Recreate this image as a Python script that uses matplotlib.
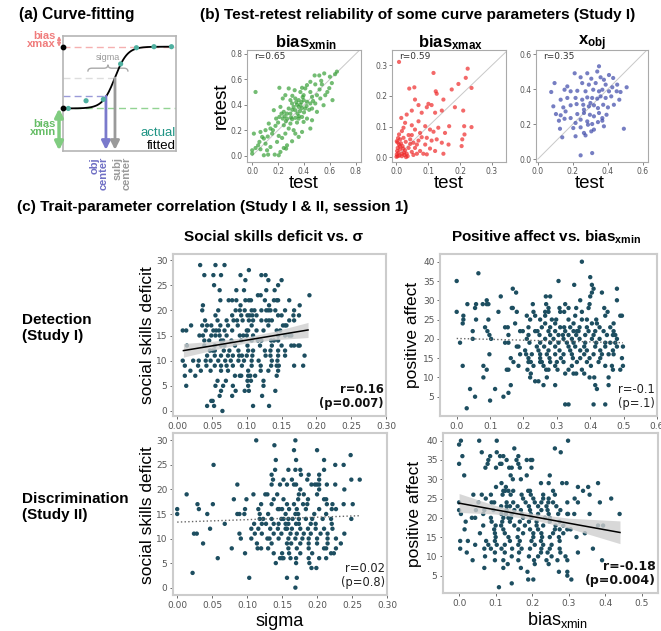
import numpy as np
import matplotlib
matplotlib.use('Agg')
import matplotlib.pyplot as plt
from matplotlib.path import Path
from matplotlib.patches import PathPatch

plt.rcParams['font.family'] = ['DejaVu Sans']
plt.rcParams['mathtext.fontset'] = 'custom'
plt.rcParams['mathtext.rm'] = 'Liberation Sans'
plt.rcParams['mathtext.bf'] = 'Liberation Sans:bold'
plt.rcParams['mathtext.it'] = 'Liberation Sans:italic'
plt.rcParams['mathtext.sf'] = 'Liberation Sans'

# ---------------- panel (a) schematic values ----------------
curve_low, curve_high, curve_center, curve_scale = 3.7, 9.07, 4.6, 0.55
actual_x = [0.47, 2.04, 3.57, 5.1, 6.5, 8.05, 9.6]
actual_y = [3.7, 4.37, 4.49, 7.57, 8.98, 9.07, 9.07]
obj_center, subj_center = 3.8, 4.6
obj_level, subj_level = 4.76, 6.35
sigma_left, sigma_right = 2.2, 5.75

# ---------------- panel (b) test-retest ----------------
xmin_test = [0.026,0.654,0.64,0.60,0.556,0.518,0.482,0.615,0.595,0.533,0.538,0.449,0.487,0.423,0.385,0.41,0.21,0.282,0.328,0.372,
             0.397,0.449,0.462,0.50,0.564,0.62,0.256,0.236,0.295,0.333,0.359,0.397,0.423,0.449,0.308,0.346,0.372,0.32,0.359,0.385,
             0.41,0.333,0.282,0.526,0.487,0.551,0.462,0.50,0.218,0.167,0.244,0.269,0.21,0.236,0.269,0.308,0.333,0.359,0.385,0.423,
             0.462,0.397,0.346,0.295,0.244,0.18,0.141,0.103,0.064,0.013,0.282,0.32,0.256,0.333,0.385,0.449,0.205,0.231,0.192,0.09,
             0.056,0.103,0.026,0.064,0.141,0.174,0.09,0.0,0.269,0.244,0.218,0.115,0.308,0.359,0.295,0.226,0.185,0.128,0.154,0.077,
             0.046,0.0,0.123,0.205,0.262,0.35,0.37,0.40,0.42,0.38,0.31,0.36,0.44,0.30,0.26,0.34,0.39,0.47,0.52,0.58,
             0.31,0.25,0.20,0.16,0.12]
xmin_retest = [0.50,0.66,0.64,0.62,0.646,0.63,0.63,0.57,0.53,0.588,0.56,0.58,0.56,0.554,0.533,0.528,0.533,0.528,0.514,0.50,
               0.475,0.50,0.462,0.475,0.475,0.436,0.475,0.449,0.436,0.449,0.436,0.436,0.423,0.41,0.41,0.40,0.40,0.383,0.383,0.375,
               0.37,0.357,0.37,0.449,0.41,0.396,0.37,0.344,0.383,0.357,0.344,0.33,0.304,0.291,0.291,0.286,0.297,0.291,0.304,0.291,
               0.278,0.265,0.26,0.252,0.239,0.234,0.213,0.20,0.186,0.173,0.213,0.20,0.173,0.173,0.186,0.213,0.155,0.139,0.108,0.134,
               0.108,0.094,0.06,0.05,0.068,0.008,0.003,0.016,0.081,0.06,0.029,0.042,0.113,0.147,0.33,0.33,0.291,0.252,0.173,0.147,
               0.081,0.042,0.008,0.003,0.055,0.33,0.35,0.34,0.39,0.42,0.36,0.31,0.36,0.30,0.27,0.42,0.46,0.43,0.52,0.50,
               0.47,0.31,0.26,0.20,0.15]

xmax_test = [0.009,0.117,0.224,0.236,0.218,0.195,0.041,0.057,0.124,0.127,0.174,0.148,0.101,0.111,0.096,0.059,0.07,0.049,0.033,0.080,
             0.122,0.143,0.184,0.21,0.166,0.213,0.236,0.016,0.028,0.023,0.049,0.07,0.091,0.106,0.117,0.132,0.153,0.059,0.075,0.080,
             0.096,0.111,0.127,0.143,0.164,0.205,0.207,0.214,0.049,0.07,0.091,0.106,0.148,0.122,0.002,0.007,0.0125,0.018,0.005,0.009,
             0.020,0.028,0.033,0.039,0.002,0.0125,0.023,0.030,0.044,0.049,0.059,0.005,0.018,0.026,0.036,0.054,0.065,0.075,0.085,0.096,
             0.009,0.018,0.039,0.044,0.054,0.065,0.001,0.003,0.01,0.015,0.022,0.006,0.031,0.012,0.004,0.025]
xmax_retest = [0.311,0.275,0.289,0.226,0.259,0.239,0.224,0.228,0.215,0.207,0.221,0.188,0.174,0.170,0.163,0.188,0.17,0.152,0.139,0.145,
               0.145,0.152,0.163,0.152,0.101,0.101,0.098,0.128,0.112,0.096,0.104,0.117,0.101,0.09,0.083,0.096,0.079,0.09,0.079,0.065,
               0.063,0.054,0.058,0.047,0.041,0.036,0.058,0.074,0.072,0.054,0.041,0.028,0.011,0.02,0.009,0.014,0.025,0.011,0.030,0.041,
               0.036,0.022,0.011,0.030,0.052,0.058,0.063,0.05,0.043,0.017,0.030,0.003,0.003,0.007,0.003,0.007,0.011,0.02,0.011,0.009,
               0.074,0.085,0.072,0.058,0.047,0.041,0.001,0.02,0.005,0.045,0.028,0.062,0.0,0.035,0.048,0.015]

xobj_test = [0.349,0.21,0.339,0.406,0.282,0.095,0.244,0.305,0.358,0.377,0.43,0.168,0.253,0.291,0.33,0.387,0.425,0.453,0.507,0.076,
             0.152,0.187,0.225,0.272,0.316,0.349,0.368,0.406,0.45,0.472,0.13,0.168,0.215,0.253,0.282,0.31,0.339,0.358,0.387,0.419,
             0.465,0.088,0.145,0.187,0.221,0.259,0.291,0.32,0.343,0.373,0.40,0.434,0.30,0.103,0.13,0.158,0.187,0.225,0.263,0.297,
             0.32,0.349,0.368,0.392,0.263,0.12,0.152,0.215,0.244,0.282,0.31,0.343,0.368,0.126,0.202,0.244,0.286,0.32,0.305,0.263,
             0.272,0.215,0.139,0.491,0.244,0.31,0.377]
xobj_retest = [0.53,0.49,0.50,0.48,0.49,0.434,0.467,0.459,0.467,0.453,0.463,0.415,0.434,0.425,0.434,0.425,0.41,0.425,0.41,0.383,
               0.396,0.387,0.39,0.387,0.396,0.387,0.396,0.387,0.387,0.383,0.339,0.349,0.349,0.339,0.352,0.349,0.345,0.358,0.349,0.358,
               0.339,0.301,0.295,0.307,0.314,0.31,0.301,0.307,0.291,0.31,0.295,0.31,0.32,0.257,0.25,0.272,0.234,0.257,0.263,0.253,
               0.244,0.263,0.234,0.253,0.282,0.219,0.23,0.206,0.225,0.215,0.20,0.211,0.219,0.173,0.177,0.181,0.196,0.168,0.158,0.149,
               0.135,0.13,0.124,0.173,0.021,0.034,0.187]

# ---------------- panel (c) Detection (Study I): social skills deficit vs sigma ----------------
det_ssd_rows = [
    (29, [0.033, 0.055, 0.068]),
    (28, [0.103]),
    (27, [0.039, 0.052, 0.063, 0.091, 0.121, 0.127]),
    (26, [0.098, 0.131, 0.150]),
    (25, [0.053, 0.145]),
    (24, [0.061, 0.085, 0.096, 0.128, 0.140]),
    (23, [0.116, 0.120, 0.190]),
    (22, [0.062, 0.074, 0.079, 0.085, 0.098, 0.103, 0.106, 0.126, 0.139, 0.143, 0.145, 0.161]),
    (21, [0.037, 0.091, 0.132, 0.176]),
    (20, [0.036, 0.059, 0.084, 0.090, 0.097, 0.107, 0.111, 0.121, 0.128, 0.131, 0.134, 0.141, 0.155, 0.168]),
    (19, [0.055, 0.079, 0.092, 0.101, 0.104, 0.108, 0.114, 0.145, 0.150, 0.167, 0.175]),
    (18, [0.040, 0.058, 0.071, 0.081, 0.086, 0.094, 0.103, 0.109, 0.121, 0.128, 0.132, 0.136, 0.161, 0.168]),
    (17, [0.020, 0.036, 0.043, 0.049, 0.062, 0.073, 0.087, 0.107, 0.131, 0.152, 0.155, 0.157]),
    (16, [0.008, 0.013, 0.041, 0.052, 0.056, 0.060, 0.068, 0.079, 0.100, 0.102, 0.114, 0.124, 0.143, 0.148]),
    (15, [0.032, 0.037, 0.049, 0.055, 0.061, 0.071, 0.090, 0.095, 0.100, 0.109, 0.145, 0.155, 0.161, 0.164]),
    (14, [0.039, 0.046, 0.063, 0.066, 0.078, 0.092, 0.107, 0.116, 0.121, 0.135, 0.139, 0.145]),
    (13, [0.014, 0.039, 0.054, 0.063, 0.068, 0.083, 0.101, 0.119, 0.136, 0.150, 0.164, 0.168, 0.174, 0.176]),
    (12, [0.047, 0.051, 0.054, 0.067, 0.075, 0.088, 0.102, 0.109, 0.126, 0.134, 0.145, 0.155]),
    (11, [0.043, 0.054, 0.063, 0.073, 0.080, 0.089, 0.093, 0.100, 0.108, 0.127, 0.134, 0.145, 0.155, 0.183]),
    (10, [0.008, 0.023, 0.031, 0.041, 0.048, 0.059, 0.069, 0.077, 0.088, 0.096, 0.107, 0.117, 0.136, 0.144]),
    (9, [0.011, 0.030, 0.042, 0.054, 0.063, 0.071, 0.080, 0.093, 0.107, 0.120, 0.135, 0.143, 0.146, 0.168, 0.181]),
    (8, [0.019, 0.034, 0.048, 0.063, 0.073, 0.102, 0.120, 0.131, 0.145]),
    (7, [0.011, 0.026, 0.083, 0.090, 0.092, 0.102, 0.105, 0.112, 0.143]),
    (6, [0.058, 0.070, 0.101, 0.106, 0.124]),
    (5, [0.013, 0.055, 0.066, 0.080, 0.102, 0.124]),
    (4, [0.063, 0.084, 0.097, 0.103, 0.141]),
    (3, [0.061, 0.079, 0.122]),
    (2, [0.049, 0.051]),
    (1, [0.043, 0.053, 0.109, 0.132]),
    (0, [0.065]),
]
det_fit_x = [0.009, 0.05, 0.095, 0.14, 0.188]
det_fit_y = [12.0, 12.94, 13.97, 15.0, 16.1]
det_ci_lo = [10.7, 12.05, 13.4, 14.15, 14.6]
det_ci_hi = [13.4, 13.85, 14.55, 15.85, 17.6]

# ---------------- Detection (Study I): positive affect vs bias_xmin ----------------
det_pa_rows = [
    (40, [0.375]), (37, [0.065]), (36, [0.40]), (35, [0.0, 0.305]), (34, [0.352, 0.405]),
    (33, [0.168, 0.41, 0.48]), (32, [0.178, 0.405, 0.435]), (31, [0.132, 0.267, 0.28, 0.40]),
    (30, [0.09, 0.37, 0.48]),
    (29, [0.032, 0.058, 0.078, 0.09, 0.095, 0.228, 0.268, 0.325, 0.398]),
    (28, [0.055, 0.165, 0.168, 0.275, 0.308, 0.335, 0.358, 0.395, 0.442]),
    (27, [0.0, 0.125, 0.18, 0.23, 0.265, 0.275, 0.31, 0.322, 0.375, 0.452]),
    (26, [0.02, 0.21, 0.235, 0.265, 0.355, 0.445, 0.49, 0.495]),
    (25, [0.02, 0.058, 0.095, 0.22, 0.25, 0.285, 0.298, 0.335, 0.375, 0.39, 0.418]),
    (24, [0.018, 0.175, 0.265, 0.295, 0.35, 0.405, 0.42, 0.47]),
    (23, [0.085, 0.145, 0.153, 0.215, 0.255, 0.28, 0.31, 0.322, 0.34, 0.368, 0.39, 0.428, 0.46]),
    (22, [0.048, 0.092, 0.19, 0.198, 0.235, 0.242, 0.275, 0.295, 0.325, 0.35, 0.36, 0.365, 0.395, 0.415, 0.44, 0.47]),
    (21, [0.098, 0.155, 0.215, 0.248, 0.28, 0.305, 0.318, 0.335, 0.358, 0.385, 0.41, 0.45, 0.468, 0.475]),
    (20, [0.048, 0.103, 0.21, 0.265, 0.29, 0.32, 0.345, 0.368, 0.405, 0.428, 0.48]),
    (19, [0.01, 0.145, 0.155, 0.218, 0.25, 0.28, 0.305, 0.33, 0.35, 0.385, 0.418, 0.445, 0.46, 0.475]),
    (18, [0.18, 0.185, 0.24, 0.262, 0.295, 0.335, 0.355, 0.382, 0.415, 0.445, 0.48, 0.498]),
    (17, [0.205, 0.245, 0.275, 0.308, 0.34, 0.37, 0.39, 0.43, 0.468]),
    (16, [0.098, 0.19, 0.208, 0.225, 0.25, 0.27, 0.295, 0.32, 0.345, 0.382, 0.41, 0.435, 0.455, 0.47]),
    (15, [0.162, 0.215, 0.25, 0.278, 0.312, 0.348, 0.37, 0.398, 0.43, 0.495]),
    (14, [0.17, 0.215, 0.222, 0.25, 0.255, 0.28, 0.30, 0.32, 0.36, 0.39, 0.425]),
    (13, [0.018, 0.08, 0.185, 0.23, 0.26, 0.295, 0.345, 0.402, 0.445, 0.465, 0.498]),
    (12, [0.09, 0.15, 0.155, 0.212, 0.268, 0.275, 0.302, 0.335, 0.375, 0.468, 0.49]),
    (11, [0.222, 0.325, 0.35, 0.358, 0.382]),
    (10, [0.08, 0.22, 0.27, 0.398, 0.412, 0.455]),
    (9, [0.235, 0.245]),
    (8, [0.162, 0.26, 0.295, 0.415, 0.455]),
    (7, [0.04, 0.115, 0.42]),
    (6, [0.155]),
    (5, [0.055, 0.14]),
    (4, [0.10]),
    (3, [0.325, 0.335, 0.41, 0.445]),
    (2, [0.03]),
]
det_pa_fit_x = [0.0, 0.498]
det_pa_fit_y = [20.1, 19.0]

# ---------------- Discrimination (Study II): social skills deficit vs sigma ----------------
dis_ssd_rows = [
    (30, [0.113, 0.169]), (29, [0.139]), (28, [0.167, 0.200]), (27, [0.248]),
    (26, [0.141, 0.170, 0.210]), (25, [0.052, 0.226, 0.238]),
    (24, [0.140, 0.159, 0.169, 0.176, 0.210]), (23, [0.135, 0.177, 0.188, 0.203]),
    (22, [0.137, 0.152, 0.164, 0.186, 0.203, 0.249, 0.261]),
    (21, [0.086, 0.135, 0.147, 0.157, 0.167, 0.170, 0.192, 0.197, 0.200, 0.203, 0.214, 0.226]),
    (20, [0.176, 0.203, 0.239]),
    (19, [0.0135, 0.109, 0.126, 0.129, 0.143, 0.174, 0.181, 0.200]),
    (18, [0.081, 0.099, 0.138, 0.152, 0.173, 0.187, 0.210, 0.213]),
    (17, [0.029, 0.051, 0.120, 0.135, 0.157, 0.167, 0.180, 0.186, 0.214, 0.222, 0.238, 0.251]),
    (16, [0.0, 0.031, 0.097, 0.116, 0.144, 0.146, 0.150, 0.160, 0.171, 0.184, 0.203, 0.221, 0.227]),
    (15, [0.0, 0.043, 0.086, 0.089, 0.096, 0.118, 0.130, 0.155, 0.169, 0.173, 0.196, 0.213]),
    (14, [0.118, 0.123, 0.135, 0.149, 0.152, 0.159, 0.165, 0.174, 0.184, 0.193, 0.208, 0.220, 0.249]),
    (13, [0.068, 0.110, 0.121, 0.127, 0.138, 0.145, 0.155, 0.159, 0.170, 0.174, 0.191, 0.198, 0.221]),
    (12, [0.047, 0.106, 0.116, 0.133, 0.144, 0.155, 0.157, 0.164, 0.176, 0.187, 0.198, 0.210, 0.222]),
    (11, [0.024, 0.028, 0.089, 0.111, 0.121, 0.138, 0.149, 0.162, 0.171, 0.181, 0.191, 0.205, 0.215, 0.239]),
    (10, [0.091, 0.106, 0.129, 0.132, 0.145, 0.159, 0.169, 0.179, 0.188, 0.200, 0.215, 0.227]),
    (9, [0.037, 0.114, 0.135, 0.157, 0.163, 0.176, 0.188, 0.200, 0.215, 0.234]),
    (8, [0.078, 0.115, 0.120, 0.130, 0.159, 0.171, 0.188, 0.210, 0.213, 0.227]),
    (7, [0.097, 0.138, 0.150, 0.160, 0.176, 0.193, 0.220, 0.224]),
    (6, [0.058, 0.147, 0.150, 0.152, 0.162, 0.170, 0.188, 0.203, 0.213]),
    (5, [0.141, 0.170, 0.189]), (4, [0.192, 0.199]), (3, [0.022]),
    (2, [0.103, 0.157, 0.171]), (0, [0.169]),
]
dis_ssd_fit_x = [0.0, 0.261]
dis_ssd_fit_y = [13.35, 14.65]

# ---------------- Discrimination (Study II): positive affect vs bias_xmin ----------------
dis_pa_rows = [
    (40, [0.005, 0.055, 0.103, 0.298]), (39, [0.0]), (38, [0.151, 0.262]),
    (37, [0.062, 0.103, 0.278]), (36, [0.009, 0.085, 0.112, 0.121, 0.162]),
    (35, [0.08, 0.13, 0.157, 0.185, 0.196, 0.200]), (34, [0.0, 0.078, 0.112, 0.116, 0.162]),
    (33, [0.072, 0.101, 0.137, 0.144, 0.166, 0.198]), (31, [0.014, 0.141, 0.185, 0.248]),
    (30, [0.147, 0.169]), (29, [0.116, 0.224, 0.245, 0.282, 0.294, 0.38]),
    (28, [0.101, 0.128, 0.325, 0.353]),
    (27, [0.121, 0.126, 0.135, 0.148, 0.189, 0.194, 0.257, 0.339]),
    (26, [0.039, 0.062, 0.087, 0.119, 0.141, 0.171, 0.196, 0.230, 0.262, 0.357]),
    (25, [0.073, 0.175, 0.203, 0.230, 0.245, 0.316, 0.416]),
    (24, [0.0, 0.053, 0.089, 0.096, 0.130, 0.148, 0.182, 0.207, 0.225, 0.244, 0.257, 0.296, 0.325, 0.385]),
    (23, [0.115, 0.130, 0.139, 0.160, 0.191, 0.216, 0.239, 0.266]),
    (22, [0.0, 0.046, 0.069, 0.094, 0.130, 0.151, 0.169, 0.194, 0.225, 0.242, 0.277]),
    (21, [0.005, 0.066, 0.116, 0.128, 0.144, 0.171, 0.196, 0.216, 0.245, 0.271, 0.296, 0.298, 0.315, 0.357, 0.439]),
    (20, [0.035, 0.044, 0.087, 0.121, 0.135, 0.142, 0.175, 0.198, 0.235, 0.248]),
    (19, [0.018, 0.089, 0.118, 0.139, 0.166, 0.191, 0.212, 0.248, 0.275]),
    (18, [0.066, 0.100, 0.115, 0.151, 0.180, 0.212, 0.230, 0.264, 0.285, 0.38, 0.394]),
    (17, [0.015, 0.096, 0.121, 0.162, 0.194, 0.216, 0.262, 0.275, 0.296, 0.305]),
    (16, [0.057, 0.098, 0.125, 0.175, 0.203, 0.225, 0.257, 0.285, 0.344]),
    (15, [0.100, 0.135, 0.160, 0.203, 0.227, 0.248, 0.273, 0.321]),
    (14, [0.003, 0.024, 0.074, 0.098, 0.139, 0.166, 0.198, 0.224, 0.275]),
    (13, [0.044, 0.080, 0.103, 0.125, 0.162, 0.207, 0.230, 0.253]),
    (12, [0.003, 0.069, 0.087, 0.116, 0.145, 0.171, 0.194, 0.225, 0.248, 0.275, 0.366]),
    (11, [0.021, 0.098, 0.125, 0.164, 0.224, 0.242, 0.277, 0.325]),
    (10, [0.071, 0.144, 0.191, 0.216, 0.253, 0.291]),
    (9, [0.037, 0.098, 0.121, 0.162, 0.205, 0.239, 0.269, 0.296, 0.391]),
    (8, [0.133, 0.207, 0.245]), (7, [0.069, 0.121, 0.169]), (6, [0.187, 0.273, 0.296]),
    (5, [0.296]), (4, [0.189, 0.203, 0.307]), (3, [0.144]), (2, [0.109]),
]
dis_pa_fit_x = [0.0, 0.1, 0.2, 0.3, 0.44]
dis_pa_fit_y = [23.8, 22.07, 20.35, 18.6, 16.2]
dis_pa_ci_lo = [21.4, 20.97, 19.55, 17.3, 13.3]
dis_pa_ci_hi = [26.3, 23.17, 21.15, 19.9, 19.2]


def expand(rows):
    xs = [x for y, row in rows for x in row]
    ys = [y for y, row in rows for x in row]
    return xs, ys


W, H = 661, 631
fig = plt.figure(figsize=(W / 100, H / 100), dpi=100)


def rect(x0, y0, x1, y1):
    return [x0 / W, 1 - y1 / H, (x1 - x0) / W, (y1 - y0) / H]


def ftext(x, y, s, **kw):
    return fig.text(x / W, 1 - y / H, s, **kw)


LS = 'Liberation Sans'
TEAL = '#1d4e60'

# ---------------- titles ----------------
ftext(19, 15, '(a) Curve-fitting', family=LS, weight='bold', fontsize=11.2, va='center', ha='left')
ftext(200, 15, '(b) Test-retest reliability of some curve parameters (Study I)', family=LS, weight='bold',
      fontsize=11.1, va='center', ha='left')
ftext(17, 207, '(c) Trait-parameter correlation (Study I & II, session 1)', family=LS, weight='bold',
      fontsize=11.1, va='center', ha='left')

# ---------------- panel (a) ----------------
axa = fig.add_axes(rect(63, 36, 176, 151))
axa.set_xlim(0, 10)
axa.set_ylim(0, 10)
axa.set_xticks([])
axa.set_yticks([])
for s in axa.spines.values():
    s.set_color('#b5b5b5')
    s.set_linewidth(1.2)
dash = (0, (5, 3))
axa.plot([0, 10], [curve_high, curve_high], color='#f5b0b0', ls=dash, lw=1)
axa.plot([0, 10], [curve_low, curve_low], color='#93d393', ls=dash, lw=1)
axa.plot([0, obj_center], [obj_level, obj_level], color='#9a9ad8', ls=dash, lw=1)
axa.plot([0, subj_center - 0.15], [subj_level, subj_level], color='#dddddd', ls=dash, lw=1)
xx = np.linspace(0, 9.6, 200)
yy = curve_low + (curve_high - curve_low) / (1 + np.exp(-(xx - curve_center) / curve_scale))
axa.plot(xx, yy, color='black', lw=1.3, zorder=3)
axa.scatter(actual_x, actual_y, s=14, color='#4fb0a0', zorder=4, edgecolors='none')
axa.scatter([0, 0], [curve_high, curve_low], s=10, color='black', zorder=5, clip_on=False)
axa.annotate('', xy=(obj_center, 0.1), xytext=(obj_center, obj_level),
             arrowprops=dict(arrowstyle='-|>', color='#7a7acc', lw=2, mutation_scale=13, shrinkA=0, shrinkB=0))
axa.annotate('', xy=(subj_center, 0.1), xytext=(subj_center, subj_level),
             arrowprops=dict(arrowstyle='-|>', color='#9a9a9a', lw=2, mutation_scale=13, shrinkA=0, shrinkB=0))
axa.annotate('', xy=(-0.35, 0.05), xytext=(-0.35, curve_low), annotation_clip=False,
             arrowprops=dict(arrowstyle='<|-|>', color='#80cc80', lw=2.5, mutation_scale=12, shrinkA=0, shrinkB=0))
axa.annotate('', xy=(-0.35, 10.0), xytext=(-0.35, curve_high), annotation_clip=False,
             arrowprops=dict(arrowstyle='<|-|>', color='#f08888', lw=1, mutation_scale=5, shrinkA=0, shrinkB=0))
# sigma brace
y0, ym, yt = 6.9, 7.2, 7.5
xc = (sigma_left + sigma_right) / 2
verts = [(sigma_left, y0), (sigma_left, ym), (sigma_left + 0.35, ym), (xc - 0.35, ym), (xc, ym), (xc, yt),
         (xc, ym), (xc + 0.35, ym), (sigma_right - 0.35, ym), (sigma_right, ym), (sigma_right, y0)]
codes = [Path.MOVETO, Path.CURVE3, Path.CURVE3, Path.LINETO, Path.CURVE3, Path.CURVE3,
         Path.CURVE3, Path.CURVE3, Path.LINETO, Path.CURVE3, Path.CURVE3]
axa.add_patch(PathPatch(Path(verts, codes), fill=False, edgecolor='#aaaaaa', lw=1))
axa.text(xc, 8.15, 'sigma', color='#9a9a9a', fontsize=6.5, family=LS, ha='center', va='center')
axa.text(9.95, 1.55, 'actual', color='#1f9484', fontsize=9.5, family=LS, ha='right', va='center')
axa.text(9.95, 0.45, 'fitted', color='black', fontsize=9.5, family=LS, ha='right', va='center')
ftext(56, 40, 'bias\nxmax', color='#f07c7c', fontsize=8, family=LS, weight='bold', ha='right', va='center',
      linespacing=0.85)
ftext(56, 128, 'bias\nxmin', color='#66bd66', fontsize=8, family=LS, weight='bold', ha='right', va='center',
      linespacing=0.85)
ftext(99.5, 157, 'obj\ncenter', color='#6f6fc4', fontsize=8, family=LS, weight='bold', rotation=90,
      ha='center', va='top', multialignment='right', linespacing=0.85)
ftext(122.5, 157, 'subj\ncenter', color='#9a9a9a', fontsize=8, family=LS, weight='bold', rotation=90,
      ha='center', va='top', multialignment='right', linespacing=0.85)

# ---------------- panel (b) ----------------
b_specs = [
    (rect(247, 50, 361, 162), xmin_test, xmin_retest, '#38a038', (-0.04, 0.84), (-0.05, 0.83),
     [0.0, 0.2, 0.4, 0.6, 0.8], r'$\mathbf{bias}_{\mathbf{xmin}}$', 'r=0.65', 306),
    (rect(392, 50, 506, 162), xmax_test, xmax_retest, '#ee2a2a', (-0.013, 0.344), (-0.016, 0.35),
     [0.0, 0.1, 0.2, 0.3], r'$\mathbf{bias}_{\mathbf{xmax}}$', 'r=0.59', 451),
    (rect(536, 50, 648, 162), xobj_test, xobj_retest, '#3c48a8', (-0.011, 0.629), (-0.017, 0.623),
     [0.0, 0.2, 0.4, 0.6], r'$\mathbf{x}_{\mathbf{obj}}$', 'r=0.35', 592),
]
for r_, xs, ys, col, xl, yl, ticks, ttl, rtxt, cx in b_specs:
    ax = fig.add_axes(r_)
    lo = max(xl[0], yl[0], 0.0)
    hi = min(xl[1], yl[1])
    ax.plot([lo, hi], [lo, hi], color='#c8c8c8', lw=0.7, zorder=1)
    ax.scatter(xs, ys, s=9, color=col, alpha=0.7, edgecolors='none', zorder=2)
    ax.set_xlim(*xl)
    ax.set_ylim(*yl)
    ax.set_xticks(ticks)
    ax.set_yticks(ticks)
    ax.set_xticklabels([f'{t:.1f}' for t in ticks])
    ax.set_yticklabels([f'{t:.1f}' for t in ticks])
    ax.tick_params(labelsize=5.5, colors='#555555', length=2, width=0.5, pad=1.5)
    for s in ax.spines.values():
        s.set_color('#aaaaaa')
        s.set_linewidth(0.8)
    ax.text(0.06, 0.94, rtxt, transform=ax.transAxes, fontsize=6.5, color='#333333', va='center', ha='left')
    ftext(cx, 43, ttl, fontsize=12, ha='center', va='center')
    ftext(cx - 2, 184, 'test', family=LS, fontsize=13.5, ha='center', va='center')
ftext(221, 106, 'retest', family=LS, fontsize=13.5, ha='center', va='center', rotation=90)

# ---------------- panel (c) ----------------
def style_c(ax):
    for s in ax.spines.values():
        s.set_color('#cccccc')
        s.set_linewidth(1.5)
    ax.tick_params(labelsize=6.5, colors='#555555', length=2, width=0.6, pad=2)


ftext(274, 237, 'Social skills deficit vs. σ', family=LS, weight='bold', fontsize=11.1, ha='center', va='center')
ftext(546, 237, r'Positive affect vs. bias$_{\mathbf{xmin}}$', family=LS, weight='bold', fontsize=11,
      ha='center', va='center')
ftext(22, 328, 'Detection\n(Study I)', family=LS, weight='bold', fontsize=11, ha='left', va='center',
      linespacing=1.2)
ftext(22, 507, 'Discrimination\n(Study II)', family=LS, weight='bold', fontsize=11, ha='left', va='center',
      linespacing=1.2)

sc_kw = dict(s=10, color=TEAL, edgecolors='none', zorder=2)

# top-left
ax = fig.add_axes(rect(173, 254, 386, 416))
xs, ys = expand(det_ssd_rows)
ax.scatter(xs, ys, **sc_kw)
ax.fill_between(det_fit_x, det_ci_lo, det_ci_hi, color='#cfcfcf', alpha=0.8, lw=0, zorder=3)
ax.plot(det_fit_x, det_fit_y, color='black', lw=1.1, zorder=4)
ax.set_xlim(-0.006, 0.30)
ax.set_ylim(-1, 31.2)
ax.set_xticks([0.0, 0.05, 0.10, 0.15, 0.20, 0.25, 0.30])
ax.set_xticklabels(['0.00', '0.05', '0.10', '0.15', '0.20', '0.25', '0.30'])
ax.set_yticks([0, 5, 10, 15, 20, 25, 30])
style_c(ax)
ax.text(0.99, 0.04, 'r=0.16\n(p=0.007)', transform=ax.transAxes, fontsize=8.3, weight='bold',
        ha='right', va='bottom', multialignment='right', linespacing=1.1, color='#111111')
ftext(147, 335, 'social skills deficit', family=LS, fontsize=12.5, rotation=90, ha='center', va='center')

# top-right
ax = fig.add_axes(rect(440, 254, 657, 416))
xs, ys = expand(det_pa_rows)
ax.scatter(xs, ys, **sc_kw)
ax.plot(det_pa_fit_x, det_pa_fit_y, color='#666666', lw=1.0, ls=':', zorder=4)
ax.set_xlim(-0.05, 0.6)
ax.set_ylim(0, 42)
ax.set_xticks([0.0, 0.1, 0.2, 0.3, 0.4, 0.5, 0.6])
ax.set_yticks([5, 10, 15, 20, 25, 30, 35, 40])
style_c(ax)
ax.text(0.99, 0.04, 'r=-0.1\n(p=.1)', transform=ax.transAxes, fontsize=8.3,
        ha='right', va='bottom', multialignment='right', linespacing=1.1, color='#222222')
ftext(413, 335, 'positive affect', family=LS, fontsize=12.5, rotation=90, ha='center', va='center')

# bottom-left
ax = fig.add_axes(rect(173, 433, 387, 595))
xs, ys = expand(dis_ssd_rows)
ax.scatter(xs, ys, **sc_kw)
ax.plot(dis_ssd_fit_x, dis_ssd_fit_y, color='#666666', lw=1.0, ls=':', zorder=4)
ax.set_xlim(-0.006, 0.30)
ax.set_ylim(-1.5, 31.5)
ax.set_xticks([0.0, 0.05, 0.10, 0.15, 0.20, 0.25, 0.30])
ax.set_xticklabels(['0.00', '0.05', '0.10', '0.15', '0.20', '0.25', '0.30'])
ax.set_yticks([0, 5, 10, 15, 20, 25, 30])
style_c(ax)
ax.text(0.99, 0.04, 'r=0.02\n(p=0.8)', transform=ax.transAxes, fontsize=8.3,
        ha='right', va='bottom', multialignment='right', linespacing=1.1, color='#222222')
ftext(147, 515, 'social skills deficit', family=LS, fontsize=12.5, rotation=90, ha='center', va='center')
ftext(280, 622, 'sigma', family=LS, fontsize=13, ha='center', va='center')

# bottom-right
ax = fig.add_axes(rect(443, 433, 658, 593))
xs, ys = expand(dis_pa_rows)
ax.scatter(xs, ys, **sc_kw)
ax.fill_between(dis_pa_fit_x, dis_pa_ci_lo, dis_pa_ci_hi, color='#cfcfcf', alpha=0.8, lw=0, zorder=3)
ax.plot(dis_pa_fit_x, dis_pa_fit_y, color='black', lw=1.1, zorder=4)
ax.set_xlim(-0.044, 0.544)
ax.set_ylim(0.5, 42)
ax.set_xticks([0.0, 0.1, 0.2, 0.3, 0.4, 0.5])
ax.set_yticks([5, 10, 15, 20, 25, 30, 35, 40])
style_c(ax)
ax.text(0.99, 0.04, 'r=-0.18\n(p=0.004)', transform=ax.transAxes, fontsize=9, weight='bold',
        ha='right', va='bottom', multialignment='right', linespacing=1.1, color='#111111')
ftext(415, 514, 'positive affect', family=LS, fontsize=12.5, rotation=90, ha='center', va='center')
ftext(558, 620, r'bias$_{\mathrm{xmin}}$', family=LS, fontsize=13, ha='center', va='center')

fig.savefig('out.png', dpi=100)
